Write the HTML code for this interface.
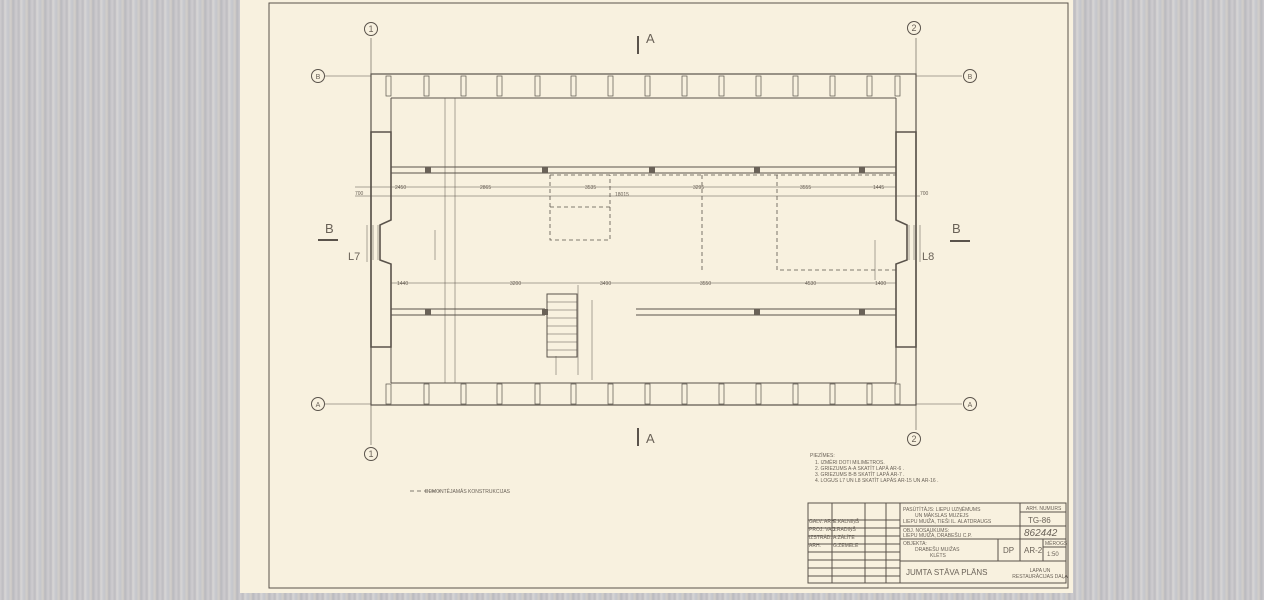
<!DOCTYPE html>
<html><head><meta charset="utf-8"><style>
html,body{margin:0;padding:0;width:1264px;height:600px;overflow:hidden;background:#c9c7c9;}
.bg{position:absolute;left:0;top:0;width:1264px;height:600px;background:repeating-linear-gradient(90deg,#cfcdd0 0,#bdbcc0 3px,#d8d6d6 5px,#c4c6cc 8px,#d2cec9 11px,#b9b9be 13px,#cdcbcf 16px);}
svg{position:absolute;left:0;top:0;}
text{font-family:"Liberation Sans",sans-serif;fill:#6a6258;}
</style></head><body><div class="bg"></div>
<svg width="1264" height="600" viewBox="0 0 1264 600">
<rect x="240" y="0" width="833" height="593" fill="#f8f1df"/>
<g stroke="#5a534b" fill="none" stroke-width="1">
<rect x="269" y="3" width="799" height="585"/>
<line x1="371" y1="38" x2="371" y2="445" stroke-width="0.6"/>
<line x1="916" y1="38" x2="916" y2="430" stroke-width="0.6"/>
<line x1="325" y1="76" x2="371" y2="76" stroke-width="0.6"/>
<line x1="916" y1="76" x2="962" y2="76" stroke-width="0.6"/>
<line x1="325" y1="404" x2="371" y2="404" stroke-width="0.6"/>
<line x1="916" y1="404" x2="962" y2="404" stroke-width="0.6"/>
<circle cx="371" cy="29" r="6.5"/><circle cx="914" cy="28" r="6.5"/>
<circle cx="371" cy="454" r="6.5"/><circle cx="914" cy="439" r="6.5"/>
<circle cx="318" cy="76" r="6.5"/><circle cx="970" cy="76" r="6.5"/>
<circle cx="318" cy="404" r="6.5"/><circle cx="970" cy="404" r="6.5"/>
<rect x="371" y="74" width="545" height="331" stroke-width="1.2"/>
<line x1="391" y1="98" x2="896" y2="98"/>
<line x1="391" y1="383" x2="896" y2="383"/>
<line x1="391" y1="98" x2="391" y2="132"/><line x1="391" y1="347" x2="391" y2="383"/>
<line x1="896" y1="98" x2="896" y2="132"/><line x1="896" y1="347" x2="896" y2="383"/>
<path d="M371 132H391V220L380 225V260L391 264V347H371Z" stroke-width="1.6"/>
<path d="M916 132H896V220L907 225V260L896 264V347H916Z" stroke-width="1.6"/>
<path d="M373 225V260M378 225V260M914 225V260M909 225V260" stroke-width="0.5"/>
<line x1="391" y1="167" x2="896" y2="167"/><line x1="391" y1="173" x2="896" y2="173"/>
<line x1="391" y1="309" x2="545" y2="309"/><line x1="391" y1="315" x2="545" y2="315"/>
<line x1="636" y1="309" x2="896" y2="309"/><line x1="636" y1="315" x2="896" y2="315"/>
<g stroke-width="0.5">
<line x1="355" y1="187" x2="896" y2="187"/><line x1="355" y1="196" x2="920" y2="196"/>
<line x1="391" y1="283" x2="896" y2="283"/>
<line x1="445" y1="98" x2="445" y2="383"/><line x1="455" y1="98" x2="455" y2="383"/>
<line x1="435" y1="230" x2="435" y2="260"/>
<line x1="875" y1="240" x2="875" y2="280"/>
<line x1="578" y1="285" x2="578" y2="375"/><line x1="592" y1="300" x2="592" y2="380"/>
<line x1="556" y1="356" x2="556" y2="375"/>
<line x1="920" y1="225" x2="920" y2="262"/>
<line x1="367" y1="225" x2="367" y2="262"/>
</g>
<g stroke-dasharray="4,3" stroke-width="0.8">
<path d="M550 175 H896 M550 175 V240 H610 V175 M550 207 H610 M702 175 V270 M777 175 V270 H896"/>
<line x1="410" y1="491" x2="440" y2="491"/>
</g>
<rect x="547" y="294" width="30" height="63"/>
<path d="M547 302H577M547 310H577M547 318H577M547 326H577M547 334H577M547 342H577M547 350H577" stroke-width="0.6"/>
<line x1="638" y1="36" x2="638" y2="54" stroke-width="2"/>
<line x1="638" y1="428" x2="638" y2="446" stroke-width="2"/>
<line x1="318" y1="240" x2="338" y2="240" stroke-width="2"/>
<line x1="950" y1="241" x2="970" y2="241" stroke-width="2"/>
<rect x="808" y="503" width="258" height="80"/>
<path d="M808 520H900 M808 528H900 M808 536H900 M808 544H900 M808 552H900 M808 560H900 M808 568H900 M808 576H900 M832 503V583 M865 503V583 M886 503V583 M900 503V583 M1020 512H1066 M900 526H1066 M900 539H1066 M900 561H1066 M1020 503V561 M998 539V561 M1043 539V561 M1043 547H1066"/>
</g>
<g fill="#f8f1df" stroke="#5a534b" stroke-width="0.7">
<g id="w">
<rect x="386" y="76" width="5" height="20"/><rect x="424" y="76" width="5" height="20"/><rect x="461" y="76" width="5" height="20"/><rect x="497" y="76" width="5" height="20"/><rect x="535" y="76" width="5" height="20"/><rect x="571" y="76" width="5" height="20"/><rect x="608" y="76" width="5" height="20"/><rect x="645" y="76" width="5" height="20"/><rect x="682" y="76" width="5" height="20"/><rect x="719" y="76" width="5" height="20"/><rect x="756" y="76" width="5" height="20"/><rect x="793" y="76" width="5" height="20"/><rect x="830" y="76" width="5" height="20"/><rect x="867" y="76" width="5" height="20"/><rect x="895" y="76" width="5" height="20"/>
</g>
<use href="#w" transform="translate(0,308)"/>
</g>
<g fill="#6a6258">
<rect x="425" y="167" width="6" height="6"/><rect x="542" y="167" width="6" height="6"/><rect x="649" y="167" width="6" height="6"/><rect x="754" y="167" width="6" height="6"/><rect x="859" y="167" width="6" height="6"/>
<rect x="425" y="309" width="6" height="6"/><rect x="542" y="309" width="6" height="6"/><rect x="754" y="309" width="6" height="6"/><rect x="859" y="309" width="6" height="6"/>
</g>
<g font-size="9" text-anchor="middle">
<text x="371" y="32">1</text><text x="914" y="31">2</text><text x="371" y="457">1</text><text x="914" y="442">2</text>
<text x="318" y="79" font-size="7">B</text><text x="970" y="79" font-size="7">B</text><text x="318" y="407" font-size="7">A</text><text x="970" y="407" font-size="7">A</text>
</g>
<g font-size="13"><text x="646" y="43">A</text><text x="646" y="443">A</text><text x="325" y="233">B</text><text x="952" y="233">B</text>
<text x="348" y="260" font-size="11">L7</text><text x="922" y="260" font-size="11">L8</text></g>
<g font-size="5">
<text x="395" y="189">2450</text><text x="480" y="189">2865</text><text x="585" y="189">3535</text><text x="693" y="189">3295</text><text x="800" y="189">3555</text><text x="873" y="189">1445</text>
<text x="355" y="195">700</text><text x="920" y="195">700</text><text x="615" y="196">18015</text>
<text x="397" y="285">1440</text><text x="510" y="285">3200</text><text x="600" y="285">3490</text><text x="700" y="285">3550</text><text x="805" y="285">4530</text><text x="875" y="285">1400</text>
<text x="810" y="457">PIEZĪMES:</text>
<text x="815" y="464">1. IZMĒRI DOTI MILIMETROS.</text>
<text x="815" y="470">2. GRIEZUMS A-A SKATĪT LAPĀ AR-6 .</text>
<text x="815" y="476">3. GRIEZUMS B-B SKATĪT LAPĀ AR-7 .</text>
<text x="815" y="482">4. LOGUS L7 UN L8 SKATĪT LAPĀS AR-15 UN AR-16 .</text>
<text x="425" y="493">DEMONTĒJAMĀS KONSTRUKCIJAS</text>
<text x="903" y="511">PASŪTĪTĀJS: LIEPU UZŅĒMUMS</text><text x="915" y="517">UN MĀKSLAS MUZEJS</text><text x="903" y="523">LIEPU MUIŽA, TIEŠI IL. ALATDRAUGS</text>
<text x="903" y="532">OBJ. NOSAUKUMS:</text><text x="903" y="537">LIEPU MUIŽA, DRABEŠU C.P.</text>
<text x="903" y="545">OBJEKTA:</text><text x="915" y="551">DRABEŠU MUIŽAS</text><text x="930" y="557">KLĒTS</text>
<text x="1026" y="510">ARH. NUMURS</text><text x="1045" y="545">MĒROGS</text><text x="1040" y="572" text-anchor="middle">LAPA UN</text><text x="1040" y="578" text-anchor="middle">RESTAURĀCIJAS DAĻA</text>
<text x="809" y="523">GALV. ARH.</text><text x="833" y="523">E.KALNIŅŠ</text>
<text x="809" y="531">PROJ. VAD.</text><text x="833" y="531">J.RADIŅŠ</text>
<text x="809" y="539">IZSTRĀD.</text><text x="833" y="539">A.ZĀLĪTE</text>
<text x="809" y="547">ARH.</text><text x="833" y="547">G.ZEMELE</text>
</g>
<g font-size="8"><text x="1028" y="523">TG-86</text><text x="1024" y="553">AR-2</text><text x="1003" y="553">DP</text><text x="1047" y="556" font-size="6">1:50</text>
<text x="906" y="575">JUMTA STĀVA PLĀNS</text><text x="1024" y="536" font-size="10" font-style="italic" fill="#2e2a26">862442</text></g>
</svg></body></html>
